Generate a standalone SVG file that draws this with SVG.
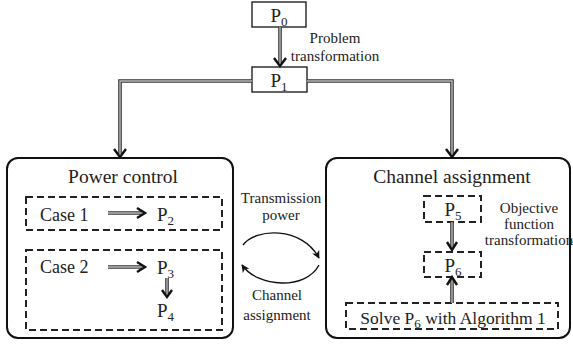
<svg xmlns="http://www.w3.org/2000/svg" width="573" height="344" viewBox="0 0 573 344" font-family="Liberation Serif, Times New Roman, DejaVu Serif, serif">
  <style>
    text{fill:#222}
    .box{fill:#fff;stroke:#111;stroke-width:1.3}
    .group{fill:#fff;stroke:#111;stroke-width:2}
    .dash{fill:none;stroke:#222;stroke-width:2;stroke-dasharray:7 4}
    .dl-o{fill:none;stroke:#333;stroke-width:3.6}
    .dl-i{fill:none;stroke:#bbb;stroke-width:1.4}
    .head{fill:none;stroke:#111;stroke-width:2.4;stroke-linejoin:miter;stroke-linecap:butt}
    .arc{fill:none;stroke:#111;stroke-width:1.4}
    .lbl{font-size:15px}
    .title{font-size:19.5px}
    .case{font-size:18px}
    .p{font-size:19px}
    .sub{font-size:13px}
  </style>
  <defs>
    <marker id="tri" viewBox="0 0 10 10" refX="9" refY="5" markerWidth="8" markerHeight="8" markerUnits="userSpaceOnUse" orient="auto">
      <path d="M0,0 L10,5 L0,10 L3,5 Z" fill="#111"/>
    </marker>
  </defs>

  <!-- group frames -->
  <g id="power-control">
    <rect class="group" x="7" y="158" width="226" height="180" rx="11"/>
    <text class="title" x="123" y="183" text-anchor="middle">Power control</text>
  </g>
  <g id="channel-assignment">
    <rect class="group" x="326" y="158" width="244" height="180" rx="11"/>
    <text class="title" x="452" y="183" text-anchor="middle">Channel assignment</text>
  </g>

  <!-- problem nodes -->
  <g id="p0">
    <rect class="box" x="252" y="2" width="54" height="25"/>
    <text class="p" x="279" y="22" text-anchor="middle">P<tspan class="sub" dy="4">0</tspan></text>
  </g>
  <g id="p1">
    <rect class="box" x="252" y="67" width="55" height="25"/>
    <text class="p" x="279" y="87" text-anchor="middle">P<tspan class="sub" dy="4">1</tspan></text>
  </g>

  <g id="case1">
    <rect class="dash" x="26" y="197" width="196" height="33"/>
    <text class="case" x="40" y="221">Case 1</text>
  </g>
  <g id="p2">
    <text class="p" x="157" y="221">P<tspan class="sub" dy="4">2</tspan></text>
  </g>
  <g id="case2">
    <rect class="dash" x="26" y="250" width="196" height="80"/>
    <text class="case" x="40" y="273">Case 2</text>
  </g>
  <g id="p3">
    <text class="p" x="157" y="274">P<tspan class="sub" dy="4">3</tspan></text>
  </g>
  <g id="p4">
    <text class="p" x="157" y="317">P<tspan class="sub" dy="4">4</tspan></text>
  </g>

  <g id="p5">
    <rect class="dash" x="424" y="196" width="57" height="26"/>
    <text class="p" x="453" y="216" text-anchor="middle">P<tspan class="sub" dy="4">5</tspan></text>
  </g>
  <g id="p6">
    <rect class="dash" x="424" y="252" width="57" height="25"/>
    <text class="p" x="453" y="272" text-anchor="middle">P<tspan class="sub" dy="4">6</tspan></text>
  </g>
  <g id="solve">
    <rect class="dash" x="346" y="303" width="212" height="26"/>
    <text x="453" y="324" text-anchor="middle" font-size="17.5">Solve P<tspan class="sub" dy="4">6</tspan><tspan dy="-4"> with Algorithm 1</tspan></text>
  </g>

  <!-- connectors -->
  <g id="connectors">
    <!-- P0 to P1 -->
    <path class="dl-o" d="M280 27 V63"/>
    <path class="dl-i" d="M280 27 V63"/>
    <polyline class="head" points="274,58 280,66 286,58"/>

    <!-- P1 to the two sub-problems -->
    <path class="dl-o" d="M252 81 H120 V154"/>
    <path class="dl-i" d="M252 81 H120 V154"/>
    <polyline class="head" points="114,149 120,157 126,149"/>
    <path class="dl-o" d="M307 81 H452 V154"/>
    <path class="dl-i" d="M307 81 H452 V154"/>
    <polyline class="head" points="446,149 452,157 458,149"/>

    <!-- case arrows -->
    <path class="dl-o" d="M108 213 H142"/>
    <path class="dl-i" d="M108 213 H142"/>
    <polyline class="head" points="137,208 145,213 137,218"/>
    <path class="dl-o" d="M108 267 H142"/>
    <path class="dl-i" d="M108 267 H142"/>
    <polyline class="head" points="137,262 145,267 137,272"/>

    <!-- P3 to P4 -->
    <path class="dl-o" d="M167 278 V294"/>
    <path class="dl-i" d="M167 278 V294"/>
    <polyline class="head" points="162,290 167,297 172,290"/>

    <!-- P5 to P6 -->
    <path class="dl-o" d="M452 222 V247"/>
    <path class="dl-i" d="M452 222 V247"/>
    <polyline class="head" points="447,242 452,250 457,242"/>

    <!-- solver to P6 -->
    <path class="dl-o" d="M452 303 V280"/>
    <path class="dl-i" d="M452 303 V280"/>
    <polyline class="head" points="447,285 452,277 457,285"/>

    <!-- exchange between the two sub-problems -->
    <path class="arc" d="M243 245 C255 228, 302 226, 319 258" marker-end="url(#tri)"/>
    <path class="arc" d="M319 265 C306 290, 258 288, 242 265" marker-end="url(#tri)"/>
  </g>

  <!-- labels -->
  <g id="labels">
    <text class="lbl" x="335" y="43" text-anchor="middle">Problem</text>
    <text class="lbl" x="335" y="61" text-anchor="middle">transformation</text>
    <text class="lbl" x="281" y="203" text-anchor="middle">Transmission</text>
    <text class="lbl" x="281" y="220" text-anchor="middle">power</text>
    <text class="lbl" x="277" y="300" text-anchor="middle">Channel</text>
    <text class="lbl" x="277" y="320" text-anchor="middle">assignment</text>
    <text class="lbl" x="529" y="213" text-anchor="middle">Objective</text>
    <text class="lbl" x="529" y="229" text-anchor="middle">function</text>
    <text class="lbl" x="529" y="245" text-anchor="middle">transformation</text>
  </g>
</svg>
